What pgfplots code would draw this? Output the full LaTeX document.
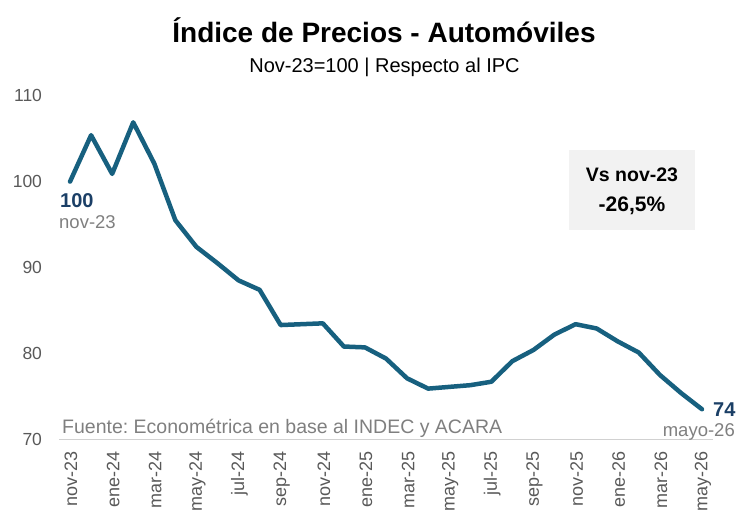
\documentclass[border=0pt]{standalone}
\usepackage{fontspec}
\setmainfont{Liberation Sans}
\usepackage{pgfplots}
\pgfplotsset{compat=1.18}
\frenchspacing
\definecolor{linec}{HTML}{17607F}
\definecolor{labc}{HTML}{1B3F66}
\definecolor{tickc}{HTML}{595959}
\definecolor{srcc}{HTML}{7F7F7F}
\definecolor{boxc}{HTML}{F2F2F2}
\newcommand\fs[1]{\fontsize{#1bp}{#1bp}\selectfont}
\begin{document}
\begin{tikzpicture}
\path[use as bounding box] (-59.5bp,-87.7bp) rectangle (691.5bp,439.3bp);
\begin{axis}[
  at={(0,0)}, anchor=south west,
  scale only axis, width=653bp, height=343.6bp,
  xmin=-0.5, xmax=30.5, ymin=70, ymax=110,
  axis lines*=left,
  y axis line style={draw=none},
  x axis line style={draw=black!18, line width=1.5bp},
  tick style={draw=none},
  ytick={70,80,90,100,110},
  xtick={0,2,...,30},
  xticklabels={nov-23,ene-24,mar-24,may-24,jul-24,sep-24,nov-24,ene-25,mar-25,may-25,jul-25,sep-25,nov-25,ene-26,mar-26,may-26},
  /pgf/number format/assume math mode=true,
  xticklabel style={rotate=90, anchor=east, font=\fs{18}, text=tickc, xshift=-9bp, yshift=-1bp},
  yticklabel style={anchor=east, font=\fs{17.5}, text=tickc, xshift=-14bp},
  clip=false,
]
\addplot[linec, line width=4.5bp, line join=round, line cap=round] coordinates {
(0,100.0) (1,105.4) (2,100.9) (3,106.9) (4,102.1) (5,95.5) (6,92.4) (7,90.5)
(8,88.5) (9,87.4) (10,83.3) (11,83.4) (12,83.5) (13,80.8) (14,80.7) (15,79.4)
(16,77.1) (17,75.9) (18,76.1) (19,76.3) (20,76.7) (21,79.1) (22,80.4) (23,82.2)
(24,83.4) (25,82.9) (26,81.4) (27,80.1) (28,77.5) (29,75.4) (30,73.5)
};
\end{axis}
\begin{scope}[x=1bp,y=-1bp,shift={(-59.5bp,439.3bp)}]
\node[anchor=base, inner sep=0pt] at (384,43) {\fs{28}\bfseries Índice de Precios - Automóviles};
\node[anchor=base, inner sep=0pt] at (384.5,73) {\fs{20}Nov-23=100 | Respecto al IPC};
\node[anchor=base west, inner sep=0pt, text=srcc] at (62,434) {\fs{19.5}Fuente: Econométrica en base al INDEC y ACARA};
\node[anchor=base west, inner sep=0pt, text=labc] at (60,208) {\fs{20}\bfseries 100};
\node[anchor=base west, inner sep=0pt, text=srcc] at (59,229) {\fs{18.5}nov-23};
\node[anchor=base west, inner sep=0pt, text=labc] at (713,417) {\fs{20}\bfseries 74};
\node[anchor=base east, inner sep=0pt, text=srcc] at (735,437) {\fs{18.5}mayo-26};
\fill[boxc] (569,150) rectangle (695,230);
\node[anchor=base, inner sep=0pt] at (632,182) {\fs{19.5}\bfseries Vs nov-23};
\node[anchor=base, inner sep=0pt] at (632,212) {\fs{21}\bfseries -26,5\%};
\end{scope}
\end{tikzpicture}
\end{document}
